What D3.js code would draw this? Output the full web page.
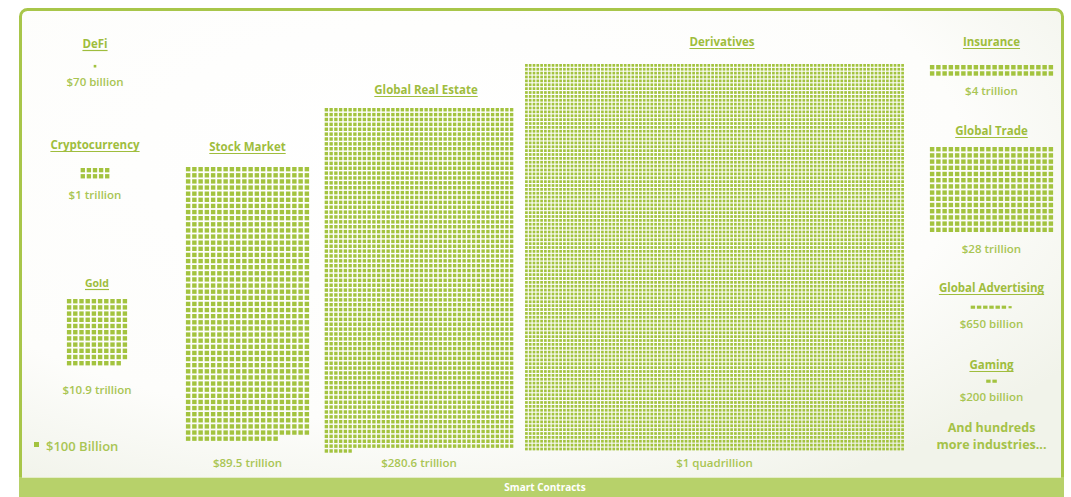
<!DOCTYPE html>
<html>
<head>
<meta charset="utf-8">
<script src="https://cdn.jsdelivr.net/npm/d3@7/dist/d3.min.js"></script>
<style>
  html, body { margin: 0; padding: 0; background: #ffffff; }
  svg { display: block; }
  text { font-family: "Open Sans", "Noto Sans", sans-serif; }
</style>
</head>
<body>
<svg id="chart" width="1071" height="497"></svg>
<script>
// ---- data -------------------------------------------------------------
const industries = ["DeFi", "Cryptocurrency", "Gold", "Stock Market", "Global Real Estate",
                    "Derivatives", "Insurance", "Global Trade", "Global Advertising", "Gaming"];
// market size in billions of US dollars
const valuesBillion = [70, 1000, 10900, 89500, 280600, 1000000, 4000, 28000, 650, 200];
const valueLabels = ["$70 billion", "$1 trillion", "$10.9 trillion", "$89.5 trillion", "$280.6 trillion",
                     "$1 quadrillion", "$4 trillion", "$28 trillion", "$650 billion", "$200 billion"];
const unitBillion = 100;            // one square
const unitLabel = "$100 Billion";
const closingLines = ["And hundreds", "more industries..."];
const bandTitle = "Smart Contracts";

// ---- layout (positions of each group) ---------------------------------
// pitch = distance between neighbouring squares; [px, py] when it differs per axis
const layout = {
  "DeFi":               { cx: 95,    titleY: 48,  top: 64,  cols: 1,   pitch: [6.2, 6.2],     labelY: 86 },
  "Cryptocurrency":     { cx: 95,    titleY: 149, top: 168, cols: 5,   pitch: [6.1, 6.1],     labelY: 199 },
  "Gold":               { cx: 97,    titleY: 287, top: 299, cols: 10,  pitch: [6.2, 6.2],     labelY: 394, titleSize: 10.5 },
  "Stock Market":       { cx: 247.5, titleY: 151, top: 167, cols: 20,  pitch: [6.25, 6.125],  labelY: 467 },
  "Global Real Estate": { cx: 419,   titleY: 94,  top: 108, cols: 40,  pitch: [4.75, 4.875],  labelY: 467, titleCx: 426 },
  "Derivatives":        { cx: 714.5, titleY: 46,  top: 64,  cols: 100, pitch: [3.8, 3.875],   labelY: 467, titleCx: 722 },
  "Insurance":          { cx: 991.5, titleY: 46,  top: 65,  cols: 20,  pitch: [6.25, 6.25],   labelY: 95 },
  "Global Trade":       { cx: 991.5, titleY: 135, top: 147, cols: 20,  pitch: [6.25, 6.2],    labelY: 253 },
  "Global Advertising": { cx: 991.5, titleY: 292, top: 305, cols: 7,   pitch: [6.2, 6.2],     labelY: 328 },
  "Gaming":             { cx: 991.5, titleY: 369, top: 379, cols: 2,   pitch: [6.2, 6.2],     labelY: 401 }
};

const GREEN = "#a3c33f";
const TITLE = "#9fbd3d";
const LABEL = "#a9c553";
const BAND = "#b7d16a";
const GAP = 0.29;   // share of a cell left empty between squares

const svg = d3.select("#chart");
const W = 1071, H = 497;

// ---- frame ------------------------------------------------------------
const defs = svg.append("defs");
const grad = defs.append("radialGradient").attr("id", "paper")
  .attr("cx", "0.38").attr("cy", "0.3").attr("r", "0.75");
grad.append("stop").attr("offset", "0").attr("stop-color", "#ffffff");
grad.append("stop").attr("offset", "0.7").attr("stop-color", "#fdfdfb");
grad.append("stop").attr("offset", "1").attr("stop-color", "#f1f3ea");

svg.append("rect").attr("x", 20.5).attr("y", 9.5).attr("width", 1042).attr("height", 500)
  .attr("rx", 7).attr("fill", "url(#paper)").attr("stroke", "#a8c64a").attr("stroke-width", 3);

svg.append("rect").attr("x", 19).attr("y", 477).attr("width", 1045).attr("height", H - 477)
  .attr("fill", BAND);
svg.append("line").attr("x1", 22).attr("x2", 1061).attr("y1", 477.5).attr("y2", 477.5)
  .attr("stroke", "#e4edc8").attr("stroke-width", 1);
svg.append("text").attr("x", 545).attr("y", 491).attr("text-anchor", "middle")
  .attr("fill", "#ffffff").attr("font-size", 10).attr("font-weight", 700).text(bandTitle);

// ---- groups -----------------------------------------------------------
industries.forEach((name, i) => {
  const L = layout[name];
  const n = valuesBillion[i] / unitBillion;
  const full = Math.floor(n + 1e-9);
  const frac = n - full;
  const count = full + (frac > 1e-6 ? 1 : 0);
  const rows = Math.ceil(count / L.cols);

  const wBox = L.pitch[0] * (L.cols - GAP);
  const hBox = L.pitch[1] * (rows - GAP);
  const x0 = L.cx - wBox / 2;
  const y0 = L.top;

  const xs = d3.scaleBand().domain(d3.range(L.cols)).range([x0, x0 + wBox]).paddingInner(GAP);
  const ys = d3.scaleBand().domain(d3.range(rows)).range([y0, y0 + hBox]).paddingInner(GAP);

  const cells = d3.range(count).map(k => ({
    col: k % L.cols,
    row: Math.floor(k / L.cols),
    share: (k === count - 1 && frac > 1e-6) ? frac : 1
  }));

  const g = svg.append("g").attr("class", "group");
  g.selectAll("rect").data(cells).join("rect")
    .attr("x", d => xs(d.col) + xs.bandwidth() * (1 - Math.sqrt(d.share)) / 2)
    .attr("y", d => ys(d.row) + ys.bandwidth() * (1 - Math.sqrt(d.share)) / 2)
    .attr("width", d => xs.bandwidth() * Math.sqrt(d.share))
    .attr("height", d => ys.bandwidth() * Math.sqrt(d.share))
    .attr("fill", GREEN);

  // underlined title
  const tcx = L.titleCx || L.cx;
  const t = g.append("text").attr("x", tcx).attr("y", L.titleY).attr("text-anchor", "middle")
    .attr("fill", TITLE).attr("font-size", L.titleSize || 11.5).attr("font-weight", 700)
    .text(name);
  const tw = t.node().getComputedTextLength();
  g.append("line").attr("x1", tcx - tw / 2).attr("x2", tcx + tw / 2)
    .attr("y1", L.titleY + 2.5).attr("y2", L.titleY + 2.5)
    .attr("stroke", TITLE).attr("stroke-width", 1.2);

  g.append("text").attr("x", L.cx).attr("y", L.labelY).attr("text-anchor", "middle")
    .attr("fill", LABEL).attr("font-size", 11.5).attr("font-weight", 600)
    .text(valueLabels[i]);
});

// ---- key --------------------------------------------------------------
svg.append("rect").attr("x", 34).attr("y", 442).attr("width", 5).attr("height", 5).attr("fill", GREEN);
svg.append("text").attr("x", 46).attr("y", 450.5).attr("fill", LABEL)
  .attr("font-size", 13).attr("font-weight", 600).text(unitLabel);

// ---- closing note -----------------------------------------------------
closingLines.forEach((line, k) => {
  svg.append("text").attr("x", 991.5).attr("y", 431.5 + k * 17).attr("text-anchor", "middle")
    .attr("fill", "#a5c248").attr("font-size", 12.5).attr("font-weight", 700).text(line);
});
</script>
</body>
</html>
